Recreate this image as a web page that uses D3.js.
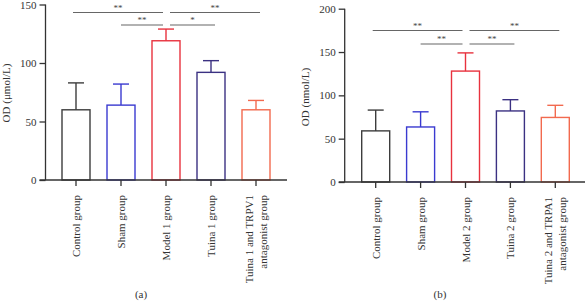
<!DOCTYPE html>
<html>
<head>
<meta charset="utf-8">
<script src="https://cdn.jsdelivr.net/npm/d3@7"></script>
<style>
  body { margin: 0; background: #fff; }
  svg { display: block; font-family: "Liberation Serif", "DejaVu Serif", serif; }
  .axis path, .axis line { stroke: #333; stroke-width: 1.3; }
  .axis text { font-size: 11px; fill: #333; font-family: "Liberation Serif", serif; }
</style>
</head>
<body>
<div id="chart"></div>
<script>
// panel (a)
var groupsA = ["Control group", "Sham group", "Model 1 group", "Tuina 1 group", ["Tuina 1 and TRPV1", "antagonist group"]];
var meanA = [60, 64, 119, 92, 60];
var errA = [83, 82, 129, 102, 68];
var ticksA = [0, 50, 100, 150];
// significance brackets: [from index, to index, level, label]
var sigA = [[0, 2, 0, "**"], [2, 4, 0, "**"], [1, 2, 1, "**"], [2, 3, 1, "*"]];

// panel (b)
var groupsB = ["Control group", "Sham group", "Model 2 group", "Tuina 2 group", ["Tuina 2 and TRPA1", "antagonist group"]];
var meanB = [59, 63.5, 128, 82, 74.5];
var errB = [83, 81, 149, 95, 88.5];
var ticksB = [0, 50, 100, 150, 200];
var sigB = [[0, 2, 0, "**"], [2, 4, 0, "**"], [1, 2, 1, "**"], [2, 3, 1, "**"]];

var colors = ["#3d3d3d", "#3a3ad0", "#e8323e", "#3b3182", "#f26a4f"];

var svg = d3.select("#chart").append("svg")
    .attr("width", 586)
    .attr("height", 303);

function drawPanel(opt) {
    var g = svg.append("g");
    var y = d3.scaleLinear().domain([0, opt.max]).range([opt.base, opt.top]);
    var x = d3.scalePoint().domain(d3.range(opt.means.length)).range([opt.first, opt.last]);
    var bw = 28;

    // bars
    g.selectAll(".bar")
        .data(opt.means)
        .enter().append("rect")
        .attr("x", function(d, i) { return x(i) - bw / 2; })
        .attr("y", function(d) { return y(d); })
        .attr("width", bw)
        .attr("height", function(d) { return opt.base - y(d); })
        .attr("fill", "#fff")
        .attr("stroke", function(d, i) { return colors[i]; })
        .attr("stroke-width", 1.4);

    // error bars (upper only)
    var eb = g.selectAll(".err").data(opt.errs).enter().append("g");
    eb.append("line")
        .attr("x1", function(d, i) { return x(i); })
        .attr("x2", function(d, i) { return x(i); })
        .attr("y1", function(d, i) { return y(opt.means[i]); })
        .attr("y2", function(d) { return y(d); })
        .attr("stroke", function(d, i) { return colors[i]; })
        .attr("stroke-width", 1.4);
    eb.append("line")
        .attr("x1", function(d, i) { return x(i) - 8; })
        .attr("x2", function(d, i) { return x(i) + 8; })
        .attr("y1", function(d) { return y(d); })
        .attr("y2", function(d) { return y(d); })
        .attr("stroke", function(d, i) { return colors[i]; })
        .attr("stroke-width", 1.4);

    // y axis
    g.append("g")
        .attr("class", "axis")
        .attr("transform", "translate(" + opt.axisX + ",0)")
        .call(d3.axisLeft(y).tickValues(opt.ticks).tickSize(6).tickSizeOuter(0))
        .select(".domain").attr("d", "M0," + opt.base + "V" + opt.top);

    // x axis
    var xa = g.append("g")
        .attr("class", "axis")
        .attr("transform", "translate(0," + opt.base + ")");
    xa.append("line")
        .attr("x1", opt.axisX - 6).attr("x2", opt.xEnd)
        .attr("y1", 0).attr("y2", 0);
    xa.selectAll(".tk")
        .data(opt.means)
        .enter().append("line")
        .attr("x1", function(d, i) { return x(i); })
        .attr("x2", function(d, i) { return x(i); })
        .attr("y1", 0).attr("y2", 6);

    // category labels, rotated
    opt.groups.forEach(function(lab, i) {
        var lines = Array.isArray(lab) ? lab : [lab];
        lines.forEach(function(t, j) {
            var cx = x(i) + (j - (lines.length - 1) / 2) * 14 + 4;
            g.append("text")
                .attr("transform", "translate(" + cx + "," + (opt.base + 15) + ") rotate(-90)")
                .attr("text-anchor", "end")
                .style("font-size", "11px")
                .style("fill", "#333")
                .text(t);
        });
    });

    // significance lines
    opt.sig.forEach(function(s) {
        var x1 = x(s[0]) - (s[0] === 0 ? 3 : 0) + (s[0] === 2 ? 4 : 0);
        var x2 = x(s[1]) + (s[1] === 2 ? -3 : 4);
        var ly = s[2] === 0 ? opt.sig0 : opt.sig1;
        g.append("line")
            .attr("x1", x1).attr("x2", x2)
            .attr("y1", ly).attr("y2", ly)
            .attr("stroke", "#666")
            .attr("stroke-width", 1.2);
        g.append("text")
            .attr("x", (x1 + x2) / 2)
            .attr("y", ly - 2)
            .attr("text-anchor", "middle")
            .style("font-size", "9px")
            .style("fill", "#444")
            .text(s[3]);
    });

    // y title
    g.append("text")
        .attr("transform", "translate(" + opt.titleX + "," + opt.titleY + ") rotate(-90)")
        .attr("text-anchor", "middle")
        .style("font-size", "11px")
        .style("fill", "#333")
        .text(opt.title);

    // panel label
    g.append("text")
        .attr("x", opt.panelX)
        .attr("y", 298)
        .attr("text-anchor", "middle")
        .style("font-size", "11px")
        .style("fill", "#333")
        .text(opt.panel);
}

drawPanel({
    means: meanA, errs: errA, groups: groupsA, ticks: ticksA, sig: sigA,
    max: 150, base: 180, top: 4.5, axisX: 45.5, xEnd: 287, first: 76, last: 256,
    sig0: 12.5, sig1: 25, title: "OD (\u03bcmol/L)", titleX: 10, titleY: 93,
    panel: "(a)", panelX: 141
});

drawPanel({
    means: meanB, errs: errB, groups: groupsB, ticks: ticksB, sig: sigB,
    max: 200, base: 182, top: 8.7, axisX: 344.7, xEnd: 585, first: 375.7, last: 555.3,
    sig0: 30.5, sig1: 44, title: "OD (nmol/L)", titleX: 309, titleY: 97,
    panel: "(b)", panelX: 440
});
</script>
</body>
</html>
